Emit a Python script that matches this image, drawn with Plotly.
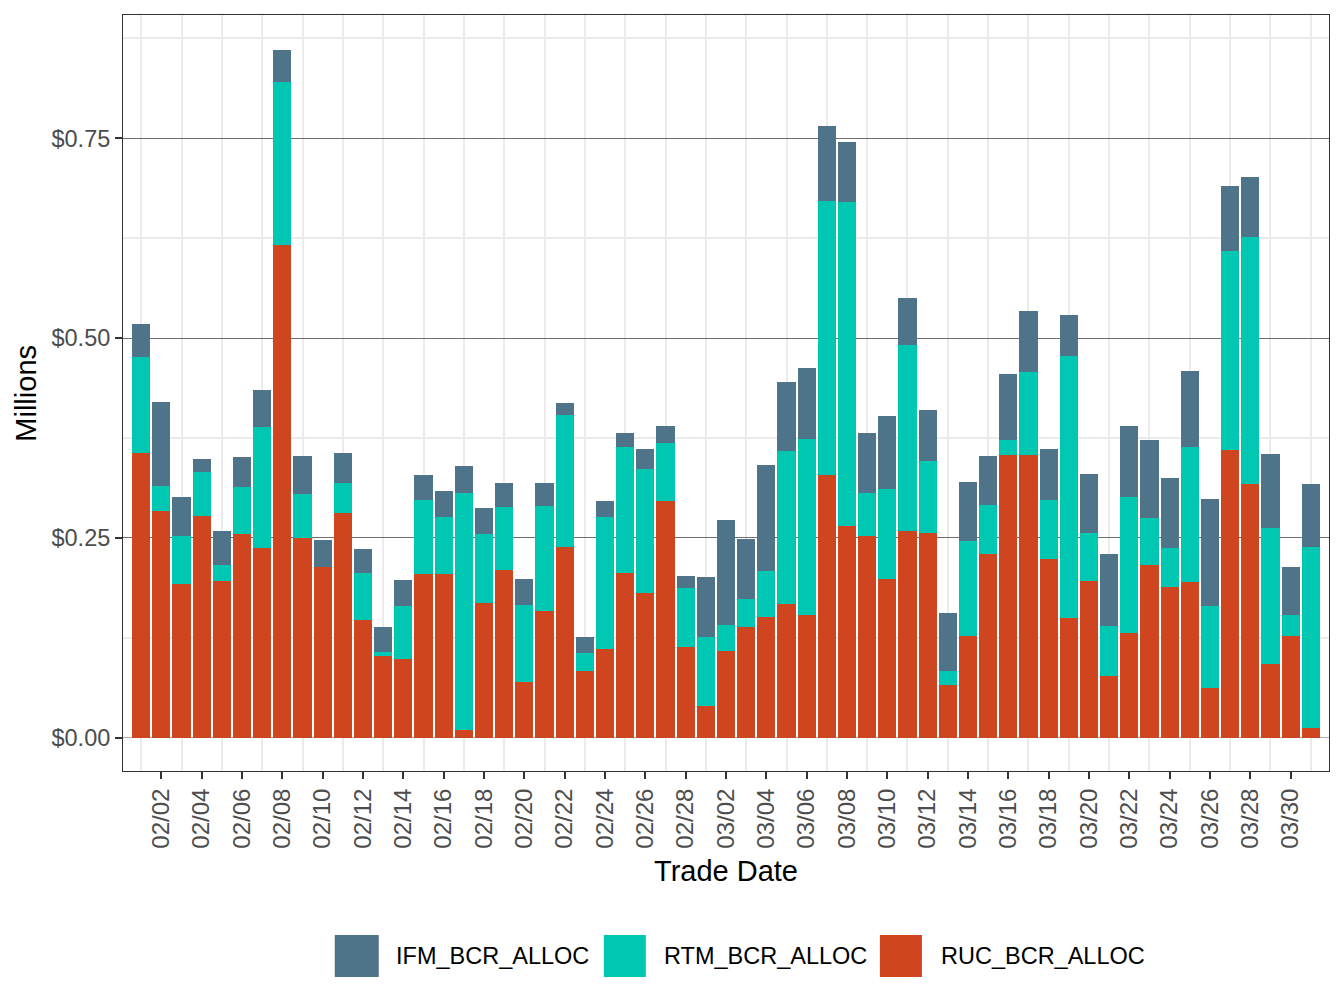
import pandas as pd
import plotly.graph_objects as go

# ---- data (values in $ millions) ----
dates = pd.date_range("2023-02-01", "2023-03-31", freq="D").strftime("%Y-%m-%d").tolist()

ruc_bcr_alloc = [0.356, 0.284, 0.1925, 0.2775, 0.196, 0.255, 0.2375, 0.616, 0.25, 0.214,
                 0.281, 0.1475, 0.1025, 0.099, 0.205, 0.205, 0.009, 0.169, 0.21, 0.07,
                 0.159, 0.239, 0.084, 0.111, 0.206, 0.181, 0.296, 0.114, 0.04, 0.109,
                 0.139, 0.151, 0.167, 0.154, 0.329, 0.265, 0.2525, 0.199, 0.259, 0.256,
                 0.066, 0.1275, 0.23, 0.354, 0.354, 0.224, 0.15, 0.196, 0.0775, 0.131,
                 0.216, 0.189, 0.195, 0.0625, 0.36, 0.3175, 0.0925, 0.1275, 0.0125]

rtm_bcr_alloc = [0.120, 0.031, 0.060, 0.055, 0.020, 0.059, 0.1515, 0.205, 0.055, 0.0,
                 0.038, 0.0585, 0.005, 0.066, 0.0925, 0.071, 0.297, 0.086, 0.079, 0.096,
                 0.131, 0.165, 0.022, 0.165, 0.158, 0.155, 0.073, 0.0735, 0.086, 0.032,
                 0.035, 0.058, 0.192, 0.220, 0.342, 0.405, 0.0535, 0.112, 0.232, 0.090,
                 0.018, 0.1185, 0.061, 0.0185, 0.1035, 0.0735, 0.3275, 0.060, 0.0625, 0.170,
                 0.059, 0.0485, 0.169, 0.1025, 0.249, 0.3085, 0.170, 0.0265, 0.2265]

ifm_bcr_alloc = [0.042, 0.105, 0.0485, 0.0165, 0.043, 0.037, 0.046, 0.039, 0.0475, 0.0335,
                 0.037, 0.030, 0.0315, 0.0325, 0.0315, 0.033, 0.034, 0.0325, 0.030, 0.033,
                 0.029, 0.015, 0.020, 0.020, 0.017, 0.025, 0.021, 0.015, 0.075, 0.1315,
                 0.075, 0.132, 0.086, 0.0885, 0.094, 0.075, 0.075, 0.0915, 0.059, 0.064,
                 0.072, 0.074, 0.0615, 0.0825, 0.0765, 0.0635, 0.0515, 0.074, 0.090, 0.089,
                 0.0975, 0.0875, 0.095, 0.134, 0.081, 0.075, 0.0925, 0.060, 0.0785]

series_values = {"IFM_BCR_ALLOC": ifm_bcr_alloc,
                 "RTM_BCR_ALLOC": rtm_bcr_alloc,
                 "RUC_BCR_ALLOC": ruc_bcr_alloc}
colors = {"IFM_BCR_ALLOC": "#4F7489", "RTM_BCR_ALLOC": "#00C7B2", "RUC_BCR_ALLOC": "#CF4520"}

FONT = "Liberation Sans, Arial, Helvetica, sans-serif"
DAY_MS = 86400000
X_RANGE = ["2023-01-31 02:20", "2023-03-31 21:40"]

fig = go.Figure()
# stack from bottom: RUC, RTM, IFM
for name in ["RUC_BCR_ALLOC", "RTM_BCR_ALLOC", "IFM_BCR_ALLOC"]:
    fig.add_trace(go.Bar(x=dates, y=series_values[name], name=name,
                         marker=dict(color=colors[name], line=dict(width=0)),
                         width=0.9 * DAY_MS, showlegend=False))

# panel geometry in pixels
W, H = 1344, 1008
PL, PR, PT, PB = 123.3, 1329.0, 15.0, 771.0

def px_to_paper_x(px):
    return (px - PL) / (PR - PL)

def px_to_paper_y(py):
    return (PB - py) / (PB - PT)

fig.update_layout(
    width=W, height=H,
    margin=dict(l=PL, r=W - PR, t=PT, b=H - PB, pad=0),
    barmode="stack", bargap=0,
    plot_bgcolor="white", paper_bgcolor="white",
    font=dict(family=FONT, color="#4D4D4D"),
    showlegend=False,
)

# main x axis: carries the (between-label) vertical grid lines at odd dates
fig.update_layout(xaxis=dict(
    type="date", range=X_RANGE,
    tick0="2023-02-01", dtick=2 * DAY_MS,
    showticklabels=False, ticks="",
    showgrid=True, gridcolor="#EBEBEB", gridwidth=2,
    showline=True, mirror=True, linecolor="#333333", linewidth=1,
    zeroline=False,
))

# overlay x axis: date labels and tick marks at even dates
fig.update_layout(xaxis2=dict(
    type="date", range=X_RANGE, overlaying="x", anchor="y", side="bottom",
    tick0="2023-02-02", dtick=2 * DAY_MS, tickformat="%m/%d",
    tickangle=-90, tickfont=dict(size=24, color="#4D4D4D", family=FONT),
    ticks="outside", ticklen=7, tickwidth=1.5, tickcolor="#333333",
    ticklabelstandoff=0,
    showgrid=False, zeroline=False, showline=False,
))
# an invisible helper trace so the overlay axis is rendered
fig.add_trace(go.Scatter(x=[dates[0], dates[-1]], y=[None, None], xaxis="x2",
                         mode="markers", showlegend=False, hoverinfo="skip"))

fig.update_yaxes(
    range=[-0.0417, 0.9043],
    tick0=0, dtick=0.25, tickformat="$.2f",
    tickfont=dict(size=23.5, color="#4D4D4D", family=FONT),
    ticks="outside", ticklen=7, tickwidth=1.5, tickcolor="#333333",
    ticklabelstandoff=0,
    showgrid=True, gridcolor="#6E6E6E", gridwidth=1,
    minor=dict(tick0=0.125, dtick=0.25, showgrid=True, gridcolor="#EBEBEB",
               gridwidth=2, ticks=""),
    zeroline=True, zerolinecolor="#B3B3B3", zerolinewidth=1.2,
    showline=True, mirror=True, linecolor="#333333", linewidth=1,
)

annotations = [
    dict(text="Trade Date", xref="paper", yref="paper",
         x=0.5, y=px_to_paper_y(871), xanchor="center", yanchor="middle",
         showarrow=False, font=dict(size=29, color="black", family=FONT)),
    dict(text="Millions", xref="paper", yref="paper",
         x=px_to_paper_x(26), y=px_to_paper_y(393), xanchor="center", yanchor="middle",
         textangle=-90, showarrow=False, font=dict(size=29, color="black", family=FONT)),
]

# custom legend (large key swatches, ggplot style)
legend_items = [("IFM_BCR_ALLOC", 335, 379, 394),
                ("RTM_BCR_ALLOC", 604, 646, 662),
                ("RUC_BCR_ALLOC", 880, 922, 939)]
shapes = []
for name, x0, x1, tx in legend_items:
    shapes.append(dict(type="rect", xref="paper", yref="paper",
                       x0=px_to_paper_x(x0), x1=px_to_paper_x(x1),
                       y0=px_to_paper_y(977), y1=px_to_paper_y(935),
                       fillcolor=colors[name], line=dict(width=0), layer="above"))
    annotations.append(dict(text=name, xref="paper", yref="paper",
                            x=px_to_paper_x(tx), y=px_to_paper_y(956),
                            xanchor="left", yanchor="middle", showarrow=False,
                            font=dict(size=23.5, color="black", family=FONT)))

fig.update_layout(annotations=annotations, shapes=shapes)

fig.write_html("out.html")
